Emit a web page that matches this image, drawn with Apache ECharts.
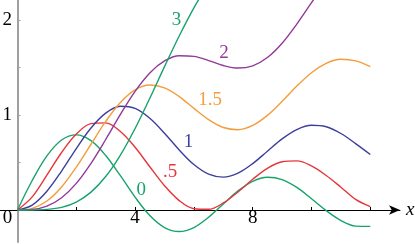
<!DOCTYPE html>
<html><head><meta charset="utf-8">
<script src="https://cdn.jsdelivr.net/npm/echarts@6/dist/echarts.min.js"></script>
<style>html,body{margin:0;padding:0;background:#fff}#c{width:415px;height:244px}</style>
</head><body><div id="c"></div>
<script>
// sample positions along x
const xs = [0,0.5,1,1.5,2,2.5,3,3.5,4,4.5,5,5.5,6,6.5,7,7.5,8,8.5,9,9.5,10,10.5,11,11.5,12];
// curve values
const v0   = [0,0.310,0.569,0.737,0.791,0.730,0.574,0.361,0.135,-0.059,-0.185,-0.227,-0.185,-0.077,0.063,0.201,0.302,0.344,0.320,0.238,0.119,-0.007,-0.111,-0.170,-0.173];
const v05  = [0,0.138,0.367,0.605,0.799,0.909,0.917,0.826,0.660,0.455,0.256,0.099,0.013,0.007,0.074,0.190,0.323,0.438,0.508,0.517,0.464,0.363,0.240,0.112,0.036];
const v1   = [0,0.052,0.198,0.410,0.647,0.863,1.020,1.092,1.070,0.966,0.808,0.632,0.478,0.377,0.346,0.388,0.488,0.619,0.749,0.847,0.892,0.876,0.805,0.699,0.584];
const v15  = [0,0.017,0.094,0.242,0.451,0.692,0.932,1.132,1.265,1.315,1.285,1.194,1.070,0.951,0.868,0.845,0.890,0.996,1.144,1.304,1.445,1.544,1.586,1.569,1.509];
const v2   = [0,0.005,0.040,0.129,0.280,0.491,0.742,1.006,1.249,1.443,1.569,1.624,1.617,1.573,1.521,1.494,1.518,1.605,1.756,1.957,2.182,2.402];
const v3   = [0,0.0004,0.006,0.028,0.084,0.188,0.352,0.578,0.858,1.176,1.509,1.832,2.128,2.384];
const curveNames = ['0', '.5', '1', '1.5', '2', '3'];
const curveValues = [v0, v05, v1, v15, v2, v3];
const xTickValues = [2, 4, 6, 8, 10, 12];
const xLabelValues = [0, 4, 8];
const yTickValues = [0.5, 1, 1.5, 2];
const yLabelValues = [1, 2];
// label anchors (data space)
const labelAnchors = [[4.21, 0.214], [5.19, 0.40], [5.82, 0.711], [6.55, 1.158], [7.02, 1.653], [5.41, 1.995]];
const colors = ['#17a36c', '#e8353b', '#3c3f9c', '#f39d3c', '#92399a', '#17a36c'];

const serif = '"Liberation Serif", "DejaVu Serif", serif';
const chart = echarts.init(document.getElementById('c'), null, {renderer: 'canvas'});

const series = curveValues.map((vals, i) => ({
  type: 'line',
  name: curveNames[i],
  data: vals.map((v, j) => [xs[j], v]),
  showSymbol: false,
  smooth: 0.35,
  clip: true,
  lineStyle: {color: colors[i], width: 1.4},
  itemStyle: {color: colors[i]},
  silent: true,
  markPoint: {
    symbol: 'circle', symbolSize: 1,
    itemStyle: {color: 'rgba(0,0,0,0)'},
    silent: true,
    label: {show: true, position: 'inside', formatter: curveNames[i], color: colors[i], fontFamily: serif, fontSize: 19},
    data: [{coord: labelAnchors[i]}]
  }
}));

chart.setOption({
  animation: false,
  grid: {left: 0, right: 15, top: 0, bottom: 2, containLabel: false, outerBoundsMode: 'none'},
  xAxis: {
    type: 'value', min: -0.595, max: 13.01,
    name: 'x', nameLocation: 'end', nameGap: 6,
    nameTextStyle: {fontFamily: serif, fontStyle: 'italic', fontSize: 19, color: '#000', verticalAlign: 'middle'},
    axisLine: {onZero: true, lineStyle: {color: '#000', width: 1}, symbol: ['none', 'arrow'], symbolSize: [7, 11]},
    axisTick: {show: true, inside: true, length: 3, customValues: xTickValues, lineStyle: {color: '#000'}},
    axisLabel: {
      customValues: xLabelValues, margin: -33, fontFamily: serif, fontSize: 19, color: '#000',
      formatter: v => v === 0 ? '{o|0}' : String(v),
      rich: {o: {fontFamily: serif, fontSize: 19, color: '#000', padding: [0, 20, 0, 0]}}
    },
    splitLine: {show: false}
  },
  yAxis: {
    type: 'value', min: -0.337, max: 2.2105,
    axisLine: {onZero: true, lineStyle: {color: '#a0a0a0', width: 2}},
    axisTick: {show: true, inside: true, length: 3, customValues: yTickValues, lineStyle: {color: '#a0a0a0'}},
    axisLabel: {customValues: yLabelValues, margin: -12, fontFamily: serif, fontSize: 19, color: '#000'},
    splitLine: {show: false}
  },
  series: series
});
</script></body></html>
